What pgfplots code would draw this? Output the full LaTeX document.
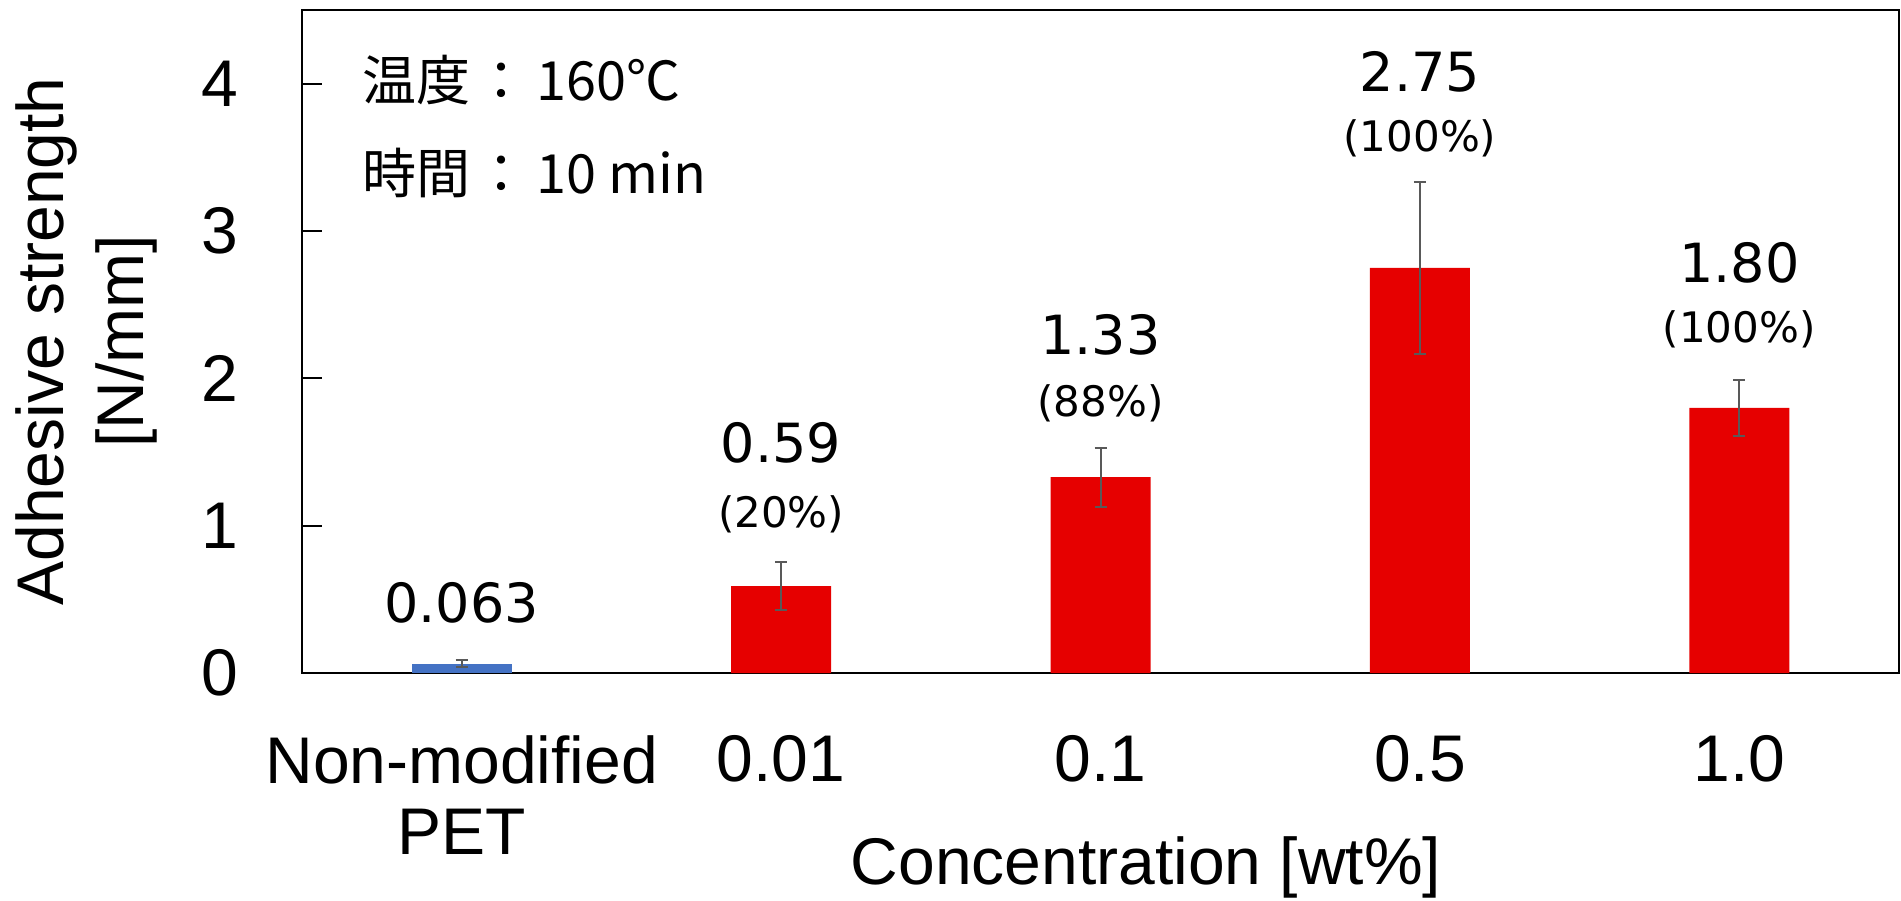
\documentclass[border=0pt]{standalone}
\usepackage{fontspec}
\setmainfont{Liberation Sans}
\newfontfamily\dv{DejaVu Sans}
\newfontfamily\cjk{Noto Sans CJK JP}
\usepackage{pgfplots}
\usepackage{pgfplotstable}
\pgfplotsset{compat=1.18}
\definecolor{barred}{RGB}{230,0,0}
\definecolor{barblue}{RGB}{68,114,196}
\definecolor{errgray}{RGB}{89,89,89}

\pgfplotstableread{
x y err
0 0.063 0.025
}\tabpet
\pgfplotstableread{
x y err
1 0.59 0.165
2 1.33 0.20
3 2.75 0.585
4 1.80 0.19
}\tabmod

\begin{document}
\begin{tikzpicture}
\useasboundingbox (0,0) rectangle (950.5bp,450.5bp);
\begin{axis}[
  at={(151bp,114bp)}, anchor=south west,
  width=798.5bp, height=331.5bp, scale only axis,
  xmin=-0.5, xmax=4.5, ymin=0, ymax=4.5,
  ybar, bar width=50bp, bar shift=0pt,
  axis line style={line width=1.2bp, black},
  xtick={0,1,2,3,4},
  xticklabels={{Non-modified\\PET},0.01,0.1,0.5,1.0},
  xtick style={draw=none},
  ytick={0,1,2,3,4},
  ytick pos=left,
  tick align=inside,
  major tick length=10bp,
  ytick style={line width=1bp, black},
  /pgf/number format/assume math mode=true,
  xticklabel style={align=center, font=\fontsize{33bp}{35.5bp}\selectfont, anchor=north, inner sep=0pt, yshift=-31bp},
  yticklabel style={font=\fontsize{33bp}{33bp}\selectfont, anchor=east, inner sep=0pt, xshift=-31.5bp},
  ylabel={Adhesive strength\\{[N/mm]}},
  ylabel style={align=center, font=\fontsize{33bp}{40bp}\selectfont, at={(axis description cs:-0.0902,0.5)}, anchor=south, inner sep=0pt},
  xlabel={Concentration [wt\%]},
  xlabel style={font=\fontsize{33bp}{33bp}\selectfont, at={(axis description cs:0.5285,-0.3183)}, anchor=base, inner sep=0pt},
  clip=false,
]
\addplot[fill=barblue, draw=none,
  error bars/.cd, y dir=both, y explicit,
  error bar style={line width=1bp, errgray},
  error mark options={rotate=90, mark size=3bp, line width=1bp, errgray}]
  table[x=x, y=y, y error=err] {\tabpet};
\addplot[fill=barred, draw=none,
  error bars/.cd, y dir=both, y explicit,
  error bar style={line width=1bp, errgray},
  error mark options={rotate=90, mark size=3bp, line width=1bp, errgray}]
  table[x=x, y=y, y error=err] {\tabmod};

\node[anchor=base, inner sep=0pt, font=\dv\fontsize{27bp}{27bp}\selectfont] at (axis cs:0,0.340) {0.063};
\node[anchor=base, inner sep=0pt, font=\dv\fontsize{27bp}{27bp}\selectfont] at (axis cs:1,1.429) {0.59};
\node[anchor=base, inner sep=0pt, font=\dv\fontsize{21bp}{21bp}\selectfont] at (axis cs:1,0.986) {(20\%)};
\node[anchor=base, inner sep=0pt, font=\dv\fontsize{27bp}{27bp}\selectfont] at (axis cs:2,2.163) {1.33};
\node[anchor=base, inner sep=0pt, font=\dv\fontsize{21bp}{21bp}\selectfont] at (axis cs:2,1.741) {(88\%)};
\node[anchor=base, inner sep=0pt, font=\dv\fontsize{27bp}{27bp}\selectfont] at (axis cs:3,3.946) {2.75};
\node[anchor=base, inner sep=0pt, font=\dv\fontsize{21bp}{21bp}\selectfont] at (axis cs:3,3.537) {(100\%)};
\node[anchor=base, inner sep=0pt, font=\dv\fontsize{27bp}{27bp}\selectfont] at (axis cs:4,2.653) {1.80};
\node[anchor=base, inner sep=0pt, font=\dv\fontsize{21bp}{21bp}\selectfont] at (axis cs:4,2.245) {(100\%)};

\node[anchor=base west, inner sep=0pt, font=\cjk\fontsize{27bp}{27bp}\selectfont] at (rel axis cs:0.0376,0.863) {温度\hspace{2bp}：\hspace{4bp}160℃};
\node[anchor=base west, inner sep=0pt, font=\cjk\fontsize{27bp}{27bp}\selectfont] at (rel axis cs:0.0376,0.723) {時間\hspace{2bp}：\hspace{4bp}10 min};
\end{axis}
\end{tikzpicture}
\end{document}
